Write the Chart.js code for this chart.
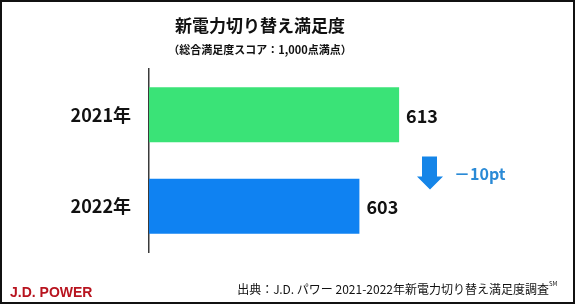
<!DOCTYPE html>
<html>
<head>
<meta charset="utf-8">
<script src="https://cdn.jsdelivr.net/npm/chart.js@4/dist/chart.umd.min.js"></script>
<style>
  html, body { margin: 0; padding: 0; background: #fff; }
  canvas { display: block; }
</style>
</head>
<body>
<canvas id="chart" width="576" height="306"></canvas>
<script>
var years = ['2021年', '2022年'];
var scores = [613, 603];
var bar_colors = ['#3ae377', '#0f82f2'];
var title_text = '新電力切り替え満足度';
var subtitle_text = '（総合満足度スコア：1,000点満点）';
var diff_text = '－10pt';
var source_text = '出典：J.D. パワー 2021-2022年新電力切り替え満足度調査';
var logo_text = 'J.D. POWER';

var JP = "'Noto Sans CJK JP', 'Noto Sans', sans-serif";

// titles, value labels, arrow, footer and frame
var decorations = {
    id: 'decorations',
    afterDraw: function(chart) {
        var ctx = chart.ctx;
        ctx.save();

        ctx.fillStyle = '#111';
        ctx.textAlign = 'center';
        ctx.textBaseline = 'middle';
        ctx.font = 'bold 17px ' + JP;
        ctx.fillText(title_text, 260, 26);
        ctx.font = 'bold 11px ' + JP;
        ctx.fillText(subtitle_text, 260, 50);

        // value labels at bar ends
        var meta = chart.getDatasetMeta(0);
        ctx.textAlign = 'left';
        ctx.font = 'bold 18px ' + JP;
        meta.data.forEach(function(bar, i) {
            ctx.fillText(scores[i], bar.x + 7, bar.y + 1);
        });

        // down arrow, sits a bit below the gap between bars
        var y0 = meta.data[0].y, y1 = meta.data[1].y;
        var mid = (y0 + y1) / 2;
        ctx.fillStyle = '#1585e8';
        ctx.beginPath();
        ctx.moveTo(422, mid - 4);
        ctx.lineTo(437, mid - 4);
        ctx.lineTo(437, mid + 16);
        ctx.lineTo(443, mid + 16);
        ctx.lineTo(430, mid + 29);
        ctx.lineTo(417, mid + 16);
        ctx.lineTo(422, mid + 16);
        ctx.closePath();
        ctx.fill();

        ctx.fillStyle = '#2a8ad6';
        ctx.font = 'bold 16px ' + JP;
        ctx.fillText(diff_text, 454, mid + 13);

        // footer
        ctx.fillStyle = '#b8141f';
        ctx.font = 'bold 14px "Liberation Sans", Arial, sans-serif';
        ctx.fillText(logo_text, 10, 293);

        ctx.fillStyle = '#111';
        ctx.textAlign = 'right';
        ctx.font = '12px ' + JP;
        ctx.fillText(source_text, 549, 289);
        ctx.textAlign = 'left';
        ctx.font = '6px ' + JP;
        ctx.fillText('SM', 549, 284);

        // frame
        ctx.strokeStyle = '#111';
        ctx.lineWidth = 2;
        ctx.strokeRect(1, 1, 573, 302);
        ctx.restore();
    }
};

var ctx = document.getElementById('chart').getContext('2d');
var chart = new Chart(ctx, {
    type: 'bar',
    data: {
        labels: years,
        datasets: [{
            data: scores,
            backgroundColor: bar_colors,
            borderWidth: 0,
            barPercentage: 0.6,
            categoryPercentage: 1.0
        }]
    },
    options: {
        indexAxis: 'y',
        responsive: false,
        animation: false,
        layout: { padding: { top: 69, bottom: 54, left: 0, right: 30 } },
        plugins: {
            legend: { display: false },
            tooltip: { enabled: false }
        },
        scales: {
            x: {
                display: false,
                min: 550,
                max: 650
            },
            y: {
                afterFit: function(scale) { scale.width = 149; },
                grid: { display: false, drawTicks: false },
                border: { display: true, color: '#3a3a3a', width: 1.5 },
                ticks: {
                    padding: 18,
                    color: '#111',
                    font: { family: JP, size: 18, weight: 'bold' }
                }
            }
        }
    },
    plugins: [decorations]
});
</script>
</body>
</html>
